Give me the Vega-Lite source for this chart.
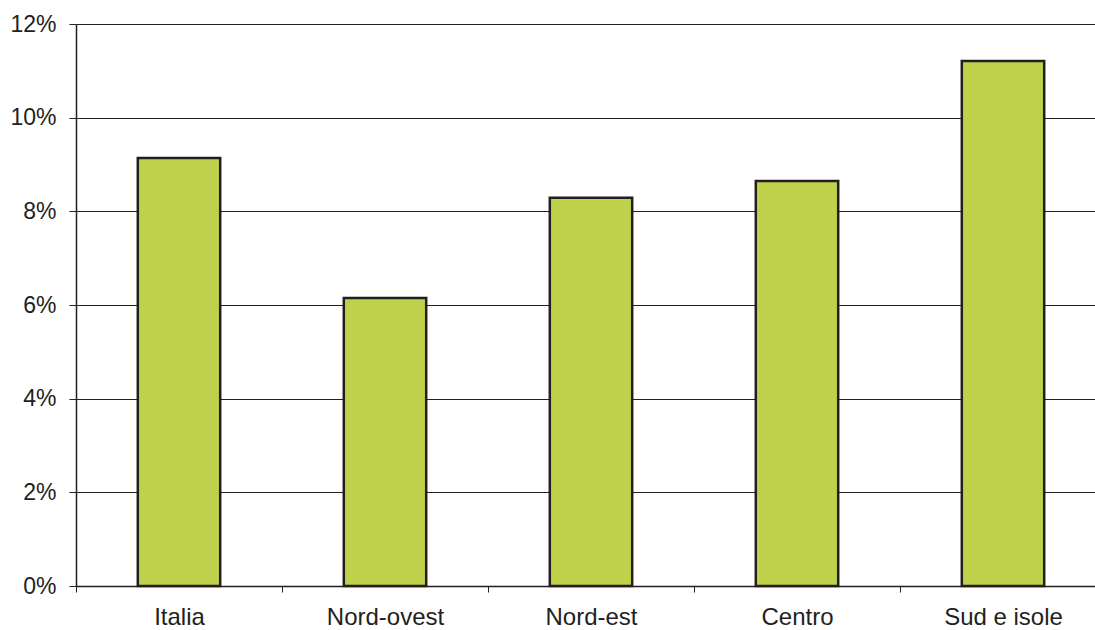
{
  "$schema": "https://vega.github.io/schema/vega-lite/v6.json",
  "width": 1019,
  "height": 562,
  "autosize": {"type": "none"},
  "padding": {"left": 76, "top": 24, "right": 0, "bottom": 44},
  "background": "white",
  "config": {"view": {"stroke": null}},
  "data": {"values": [
    {"area": "Italia", "value": 9.14},
    {"area": "Nord-ovest", "value": 6.15},
    {"area": "Nord-est", "value": 8.29},
    {"area": "Centro", "value": 8.65},
    {"area": "Sud e isole", "value": 11.21}
  ]},
  "mark": {"type": "bar", "width": {"band": 0.4}, "fill": "#BFD14B", "stroke": "#231F20", "strokeWidth": 2.5},
  "encoding": {
    "x": {
      "field": "area", "type": "nominal", "sort": null,
      "scale": {"padding": 0, "range": [0, 1030]},
      "axis": {
        "title": null, "labelAngle": 0, "tickBand": "extent",
        "labelFont": "Liberation Sans", "labelFontSize": 24, "labelColor": "#231F20",
        "domainColor": "#231F20", "domainWidth": 1.5, "tickColor": "#231F20", "tickSize": 6,
        "labelPadding": 13, "grid": false
      }
    },
    "y": {
      "field": "value", "type": "quantitative",
      "scale": {"domain": [0, 12], "nice": false},
      "axis": {
        "title": null, "values": [0, 2, 4, 6, 8, 10, 12],
        "labelExpr": "datum.value + '%'",
        "labelFont": "Liberation Sans", "labelFontSize": 23, "labelColor": "#231F20",
        "domainColor": "#231F20", "domainWidth": 1.5, "tickColor": "#231F20", "tickSize": 7,
        "labelPadding": 13, "grid": true, "gridColor": "#231F20", "gridWidth": 1, "gridOpacity": 1
      }
    }
  }
}
